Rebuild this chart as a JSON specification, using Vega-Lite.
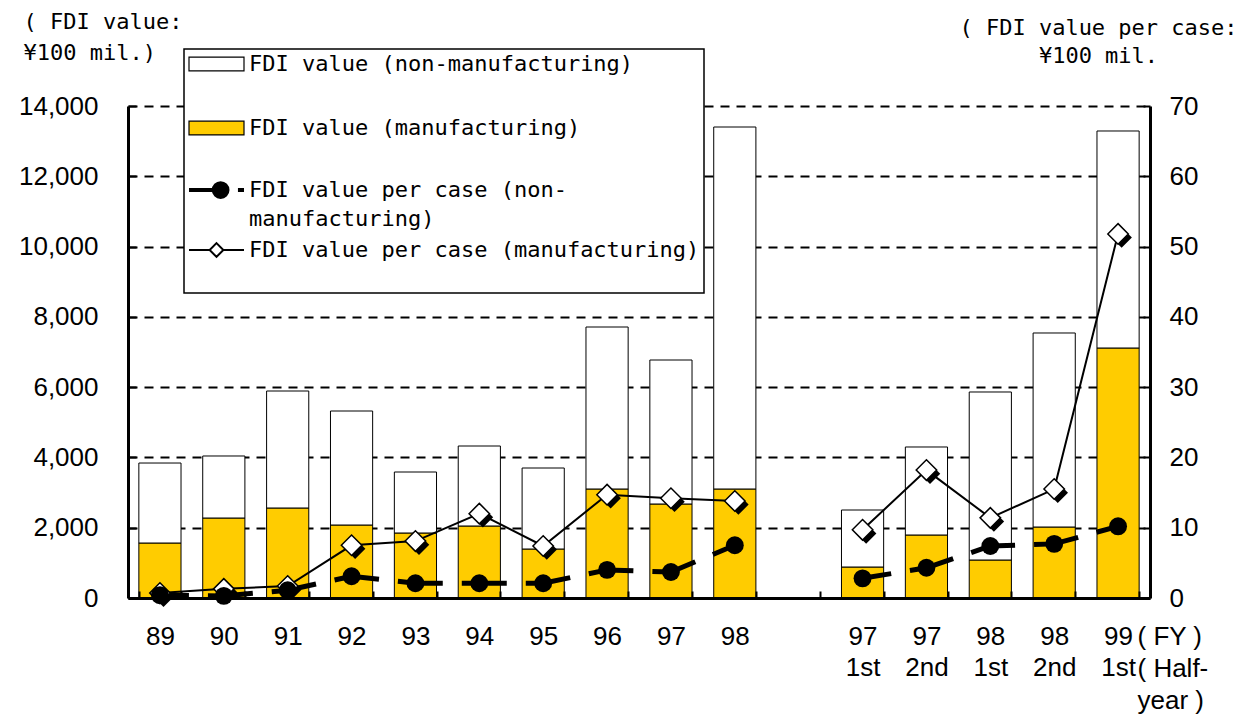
{
  "$schema": "https://vega.github.io/schema/vega-lite/v6.json",
  "width": 1022,
  "height": 492,
  "autosize": {"type": "none"},
  "padding": {"left": 128, "top": 106, "right": 109, "bottom": 117},
  "background": "white",
  "config": {"view": {"stroke": null}, "font": "Liberation Sans"},
  "datasets": {
    "bars": [
      {"period": "89", "series": "FDI value (manufacturing)", "value": 1565},
      {"period": "90", "series": "FDI value (manufacturing)", "value": 2276},
      {"period": "91", "series": "FDI value (manufacturing)", "value": 2561},
      {"period": "92", "series": "FDI value (manufacturing)", "value": 2077},
      {"period": "93", "series": "FDI value (manufacturing)", "value": 1850},
      {"period": "94", "series": "FDI value (manufacturing)", "value": 2049},
      {"period": "95", "series": "FDI value (manufacturing)", "value": 1394},
      {"period": "96", "series": "FDI value (manufacturing)", "value": 3102},
      {"period": "97", "series": "FDI value (manufacturing)", "value": 2675},
      {"period": "98", "series": "FDI value (manufacturing)", "value": 3102},
      {"period": "97 1st", "series": "FDI value (manufacturing)", "value": 882},
      {"period": "97 2nd", "series": "FDI value (manufacturing)", "value": 1793},
      {"period": "98 1st", "series": "FDI value (manufacturing)", "value": 1081},
      {"period": "98 2nd", "series": "FDI value (manufacturing)", "value": 2020},
      {"period": "99 1st", "series": "FDI value (manufacturing)", "value": 7114},
      {"period": "89", "series": "FDI value (non-manufacturing)", "value": 2276},
      {"period": "90", "series": "FDI value (non-manufacturing)", "value": 1765},
      {"period": "91", "series": "FDI value (non-manufacturing)", "value": 3329},
      {"period": "92", "series": "FDI value (non-manufacturing)", "value": 3244},
      {"period": "93", "series": "FDI value (non-manufacturing)", "value": 1735},
      {"period": "94", "series": "FDI value (non-manufacturing)", "value": 2276},
      {"period": "95", "series": "FDI value (non-manufacturing)", "value": 2305},
      {"period": "96", "series": "FDI value (non-manufacturing)", "value": 4609},
      {"period": "97", "series": "FDI value (non-manufacturing)", "value": 4097},
      {"period": "98", "series": "FDI value (non-manufacturing)", "value": 10300},
      {"period": "97 1st", "series": "FDI value (non-manufacturing)", "value": 1622},
      {"period": "97 2nd", "series": "FDI value (non-manufacturing)", "value": 2504},
      {"period": "98 1st", "series": "FDI value (non-manufacturing)", "value": 4781},
      {"period": "98 2nd", "series": "FDI value (non-manufacturing)", "value": 5521},
      {"period": "99 1st", "series": "FDI value (non-manufacturing)", "value": 6175}
    ],
    "lines": [
      {"period": "89", "group": "annual", "series": "FDI value per case (manufacturing)", "value": 0.7},
      {"period": "90", "group": "annual", "series": "FDI value per case (manufacturing)", "value": 1.3},
      {"period": "91", "group": "annual", "series": "FDI value per case (manufacturing)", "value": 1.7},
      {"period": "92", "group": "annual", "series": "FDI value per case (manufacturing)", "value": 7.5},
      {"period": "93", "group": "annual", "series": "FDI value per case (manufacturing)", "value": 8.1},
      {"period": "94", "group": "annual", "series": "FDI value per case (manufacturing)", "value": 12.0},
      {"period": "95", "group": "annual", "series": "FDI value per case (manufacturing)", "value": 7.4},
      {"period": "96", "group": "annual", "series": "FDI value per case (manufacturing)", "value": 14.7},
      {"period": "97", "group": "annual", "series": "FDI value per case (manufacturing)", "value": 14.2},
      {"period": "98", "group": "annual", "series": "FDI value per case (manufacturing)", "value": 13.8},
      {"period": "97 1st", "group": "half", "series": "FDI value per case (manufacturing)", "value": 9.7},
      {"period": "97 2nd", "group": "half", "series": "FDI value per case (manufacturing)", "value": 18.2},
      {"period": "98 1st", "group": "half", "series": "FDI value per case (manufacturing)", "value": 11.4},
      {"period": "98 2nd", "group": "half", "series": "FDI value per case (manufacturing)", "value": 15.5},
      {"period": "99 1st", "group": "half", "series": "FDI value per case (manufacturing)", "value": 51.8},
      {"period": "89", "group": "annual", "series": "FDI value per case (non-manufacturing)", "value": 0.4},
      {"period": "90", "group": "annual", "series": "FDI value per case (non-manufacturing)", "value": 0.3},
      {"period": "91", "group": "annual", "series": "FDI value per case (non-manufacturing)", "value": 1.1},
      {"period": "92", "group": "annual", "series": "FDI value per case (non-manufacturing)", "value": 3.1},
      {"period": "93", "group": "annual", "series": "FDI value per case (non-manufacturing)", "value": 2.1},
      {"period": "94", "group": "annual", "series": "FDI value per case (non-manufacturing)", "value": 2.1},
      {"period": "95", "group": "annual", "series": "FDI value per case (non-manufacturing)", "value": 2.1},
      {"period": "96", "group": "annual", "series": "FDI value per case (non-manufacturing)", "value": 4.0},
      {"period": "97", "group": "annual", "series": "FDI value per case (non-manufacturing)", "value": 3.7},
      {"period": "98", "group": "annual", "series": "FDI value per case (non-manufacturing)", "value": 7.5},
      {"period": "97 1st", "group": "half", "series": "FDI value per case (non-manufacturing)", "value": 2.8},
      {"period": "97 2nd", "group": "half", "series": "FDI value per case (non-manufacturing)", "value": 4.3},
      {"period": "98 1st", "group": "half", "series": "FDI value per case (non-manufacturing)", "value": 7.4},
      {"period": "98 2nd", "group": "half", "series": "FDI value per case (non-manufacturing)", "value": 7.7},
      {"period": "99 1st", "group": "half", "series": "FDI value per case (non-manufacturing)", "value": 10.2}
    ]
  },
  "layer": [
    {
      "data": {"name": "bars"},
      "mark": {"type": "bar", "stroke": "black", "strokeWidth": 1},
      "encoding": {
        "x": {
          "field": "period",
          "type": "nominal",
          "scale": {
            "domain": ["89", "90", "91", "92", "93", "94", "95", "96", "97", "98", "gap", "97 1st", "97 2nd", "98 1st", "98 2nd", "99 1st"],
            "paddingInner": 0.34,
            "paddingOuter": 0.17
          },
          "axis": {
            "title": ["( FY )", "( Half-", "year )"],
            "titleFont": "Liberation Sans",
            "titleFontSize": 26,
            "titleFontWeight": "normal",
            "titleColor": "black",
            "titleAngle": 0,
            "titleAlign": "left",
            "titleBaseline": "top",
            "titleX": 1009,
            "titleY": 25,
            "titleLineHeight": 32,
            "labelExpr": "isValid(datum.value) && datum.value !== 'gap' ? split(datum.value, ' ') : ''",
            "labelFont": "Liberation Sans",
            "labelFontSize": 26,
            "labelColor": "black",
            "labelAngle": 0,
            "labelBaseline": "top",
            "labelLineHeight": 31,
            "labelPadding": 32,
            "tickBand": "extent",
            "tickSize": -7,
            "tickWidth": 2,
            "tickColor": "black",
            "domainColor": "black",
            "domainWidth": 3,
            "zindex": 1
          }
        },
        "y": {
          "field": "value",
          "type": "quantitative",
          "stack": "zero",
          "scale": {"domain": [0, 14000], "nice": false},
          "axis": {
            "title": ["( FDI value:", "¥100 mil.)"],
            "titleFont": "DejaVu Sans Mono",
            "titleFontSize": 22,
            "titleFontWeight": "normal",
            "titleColor": "black",
            "titleAngle": 0,
            "titleAlign": "left",
            "titleBaseline": "top",
            "titleX": -105,
            "titleY": -95,
            "titleLineHeight": 31,
            "values": [0, 2000, 4000, 6000, 8000, 10000, 12000, 14000],
            "format": ",d",
            "labelFont": "Liberation Sans",
            "labelFontSize": 26,
            "labelColor": "black",
            "labelPadding": 38,
            "tickSize": -8,
            "tickWidth": 2,
            "tickColor": "black",
            "domainColor": "black",
            "domainWidth": 3,
            "grid": true,
            "gridColor": "black",
            "gridDash": [9, 7],
            "gridWidth": 2
          }
        },
        "fill": {
          "field": "series",
          "type": "nominal",
          "scale": {
            "domain": ["FDI value (non-manufacturing)", "FDI value (manufacturing)", "FDI value per case (non-manufacturing)", "FDI value per case (manufacturing)"],
            "range": ["white", "#FFCC00", "black", "white"]
          },
          "legend": {
            "title": null,
            "orient": "none",
            "legendX": 56,
            "legendY": -57,
            "direction": "vertical",
            "fillColor": "white",
            "strokeColor": "black",
            "padding": 4,
            "rowPadding": 0,
            "symbolStrokeColor": "black",
            "labelFont": "DejaVu Sans Mono",
            "labelFontSize": 22,
            "labelColor": "black",
            "labelLimit": 1000,
            "labelBaseline": "middle",
            "labelExpr": "datum.value === 'FDI value per case (non-manufacturing)' ? ['FDI value per case (non-', 'manufacturing)'] : datum.label",
            "encode": {
              "legend": {"update": {"strokeWidth": {"value": 1.5}}},
              "labels": {"update": {"lineHeight": {"value": 29}, "x": {"value": 61}}},
              "symbols": {
                "update": {
                  "x": {"value": 28.5},
                  "size": {"value": 3025},
                  "shape": {"signal": "datum.value === 'FDI value per case (non-manufacturing)' ? 'M-1,0L-0.15,0M0.4,0A0.25,0.25 0 1,1 -0.1,0A0.25,0.25 0 1,1 0.4,0ZM0.78,0L1,0M0,-0.91L0,-0.91' : datum.value === 'FDI value per case (manufacturing)' ? 'M-1,0L-0.25,0M0.25,0L1,0M0,-0.25L0.25,0L0,0.25L-0.25,0ZM0,-0.55L0,-0.55M0,1.27L0,1.27' : datum.value === 'FDI value (manufacturing)' ? 'M-1,-0.25L1,-0.25L1,0.25L-1,0.25ZM0,-1.09L0,-1.09M0,0.91L0,0.91' : 'M-1,-0.25L1,-0.25L1,0.25L-1,0.25ZM0,-0.65L0,-0.65M0,1.02L0,1.02'"},
                  "stroke": {"value": "black"},
                  "strokeWidth": {"signal": "datum.value === 'FDI value per case (non-manufacturing)' ? 4 : datum.value === 'FDI value per case (manufacturing)' ? 2 : 1.2"},
                  "opacity": {"value": 1}
                }
              }
            }
          }
        },
        "order": {"field": "series", "sort": "ascending"}
      }
    },
    {
      "data": {"name": "lines"},
      "layer": [
        {
          "transform": [{"filter": "datum.series === 'FDI value per case (manufacturing)'"}],
          "mark": {"type": "line", "color": "black", "strokeWidth": 2},
          "encoding": {
            "x": {"field": "period", "type": "nominal"},
            "y": {
              "field": "value",
              "type": "quantitative",
              "scale": {"domain": [0, 70], "nice": false},
              "axis": {
                "orient": "right",
                "title": ["( FDI value per case:", "¥100 mil."],
                "titleFont": "DejaVu Sans Mono",
                "titleFontSize": 22,
                "titleFontWeight": "normal",
                "titleColor": "black",
                "titleAngle": 0,
                "titleAlign": "center",
                "titleBaseline": "top",
                "titleX": -52,
                "titleY": -89,
                "titleLineHeight": 28,
                "values": [0, 10, 20, 30, 40, 50, 60, 70],
                "labelFont": "Liberation Sans",
                "labelFontSize": 26,
                "labelColor": "black",
                "labelPadding": 26,
                "tickSize": -7,
                "tickWidth": 2,
                "tickColor": "black",
                "domainColor": "black",
                "domainWidth": 3,
                "grid": false,
                "zindex": 1
              }
            },
            "detail": {"field": "group", "type": "nominal"}
          }
        },
        {
          "transform": [{"filter": "datum.series === 'FDI value per case (non-manufacturing)'"}],
          "mark": {"type": "line", "color": "black", "strokeWidth": 5, "strokeDash": [45, 19], "strokeDashOffset": 16},
          "encoding": {
            "x": {"field": "period", "type": "nominal"},
            "y": {"field": "value", "type": "quantitative"},
            "detail": {"field": "group", "type": "nominal"}
          }
        },
        {
          "transform": [{"filter": "datum.series === 'FDI value per case (manufacturing)'"}],
          "mark": {"type": "point", "shape": "M0.35,-0.65L1.35,0.35L0.35,1.35L-0.65,0.35Z", "filled": true, "opacity": 1, "size": 420, "color": "black", "strokeWidth": 0},
          "encoding": {
            "x": {"field": "period", "type": "nominal"},
            "y": {"field": "value", "type": "quantitative"}
          }
        },
        {
          "transform": [{"filter": "datum.series === 'FDI value per case (manufacturing)'"}],
          "mark": {"type": "point", "shape": "diamond", "filled": true, "opacity": 1, "size": 420, "stroke": "black", "strokeWidth": 1.5},
          "encoding": {
            "x": {"field": "period", "type": "nominal"},
            "y": {"field": "value", "type": "quantitative"},
            "fill": {"field": "series", "type": "nominal"}
          }
        },
        {
          "transform": [{"filter": "datum.series === 'FDI value per case (non-manufacturing)'"}],
          "mark": {"type": "point", "shape": "circle", "filled": true, "opacity": 1, "size": 320, "strokeWidth": 0},
          "encoding": {
            "x": {"field": "period", "type": "nominal"},
            "y": {"field": "value", "type": "quantitative"},
            "fill": {"field": "series", "type": "nominal"}
          }
        }
      ]
    }
  ],
  "resolve": {"scale": {"y": "independent"}}
}
